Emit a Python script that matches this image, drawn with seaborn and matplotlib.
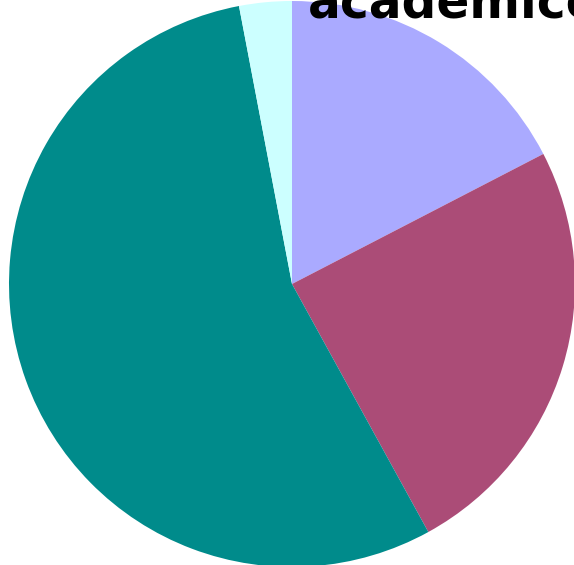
import matplotlib
matplotlib.use("Agg")
import matplotlib.pyplot as plt
import seaborn as sns

sns.set_style("white")
plt.rcParams['font.family'] = ['DejaVu Sans']

labels = ["A", "B", "C", "D"]
values = [17.4, 24.6, 55.0, 3.0]
colors = ["#aaaaff", "#ab4c77", "#008b8b", "#ccffff"]
title_text = "academice"

fig = plt.figure(figsize=(5.74, 5.65), dpi=100)
W, H = 574, 565
cx, cy, r = 292, 284, 283
ax = fig.add_axes([(cx - r) / W, (H - cy - r) / H, 2 * r / W, 2 * r / H])
ax.pie(values, colors=sns.color_palette(colors), startangle=90, counterclock=False,
       radius=1, wedgeprops=dict(linewidth=0))
ax.set_xlim(-1, 1)
ax.set_ylim(-1, 1)
ax.set_aspect('auto')
ax.axis('off')

fig.text(308 / W, 1 - 18 / H, title_text, fontsize=35, fontweight='bold',
         ha='left', va='baseline', color='black')

fig.savefig("out.png", dpi=100)
